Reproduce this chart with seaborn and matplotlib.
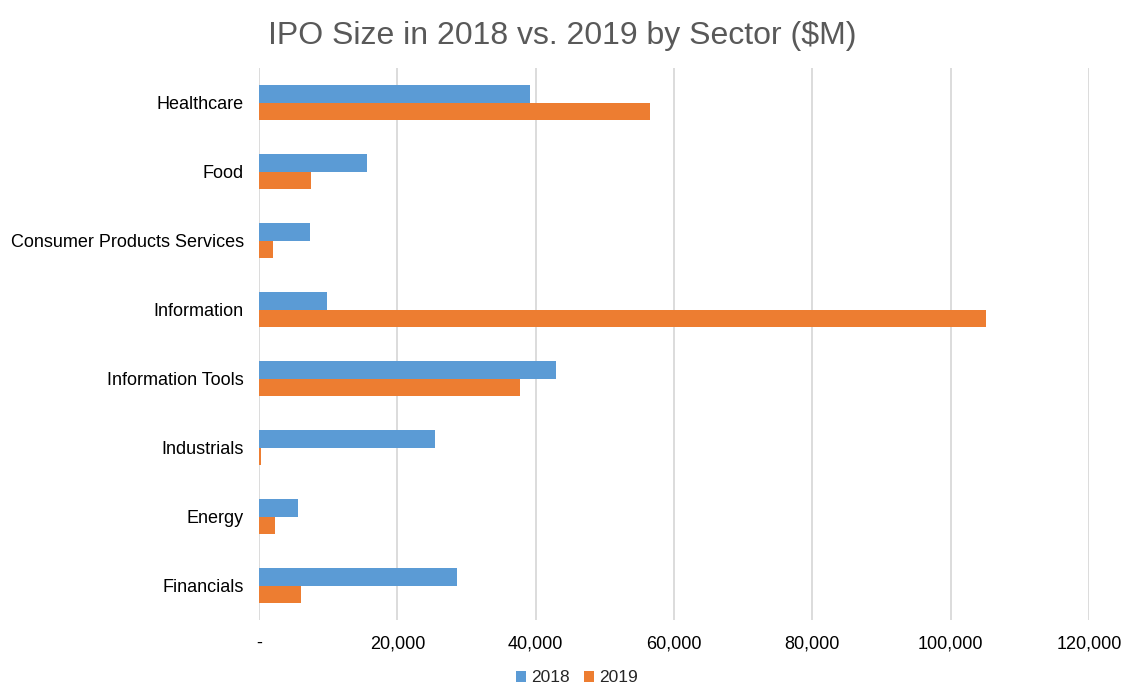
import matplotlib
matplotlib.use("Agg")
import matplotlib.pyplot as plt
import seaborn as sns
import pandas as pd
from matplotlib.ticker import FuncFormatter

sectors = ["Healthcare", "Food", "Consumer Products Services", "Information",
           "Information Tools", "Industrials", "Energy", "Financials"]
ipo_2018 = [39200, 15600, 7400, 9800, 43000, 25500, 5600, 28600]
ipo_2019 = [56500, 7500, 2100, 105100, 37700, 300, 2300, 6100]
years = ["2018", "2019"]
colors = ["#5B9BD5", "#ED7D31"]

df = pd.DataFrame({
    "Sector": sectors * 2,
    "Value": ipo_2018 + ipo_2019,
    "Year": [years[0]] * len(sectors) + [years[1]] * len(sectors),
})

sns.set_theme(style="white")
plt.rcParams["font.family"] = ["Liberation Sans", "DejaVu Sans"]

fig = plt.figure(figsize=(11.24, 6.87), dpi=100)
ax = fig.add_axes([0.2304, 0.0975, 0.7385, 0.8035])

sns.barplot(data=df, x="Value", y="Sector", hue="Year", order=sectors,
            hue_order=years, palette=colors, orient="h", width=0.52,
            gap=0, saturation=1, ax=ax, legend=True, linewidth=0)

ax.set_xlim(0, 120000)
ax.set_xticks(range(0, 120001, 20000))
ax.xaxis.set_major_formatter(FuncFormatter(lambda v, p: "-" if v == 0 else f"{int(v):,}"))
ax.grid(axis="x", color="#D9D9D9", linewidth=1.3)
ax.set_axisbelow(True)
for s in ax.spines.values():
    s.set_visible(False)
ax.set_xlabel("")
ax.set_ylabel("")
ax.tick_params(axis="both", length=0, labelsize=13, colors="#000000")
ax.tick_params(axis="x", pad=11)
ax.tick_params(axis="y", pad=11)

fig.suptitle("IPO Size in 2018 vs. 2019 by Sector ($M)", x=0.5, y=0.97,
             fontsize=23, color="#595959")

ax.get_legend().remove()
handles, labels = ax.get_legend_handles_labels()
fig.legend(handles, labels, loc="center", bbox_to_anchor=(577 / 1124, 1 - 678 / 687),
           ncol=2, frameon=False, fontsize=12.5, handlelength=0.6, handleheight=0.6,
           handletextpad=0.3, columnspacing=0.8, borderaxespad=0, borderpad=0)

fig.savefig("out.png", dpi=100)
